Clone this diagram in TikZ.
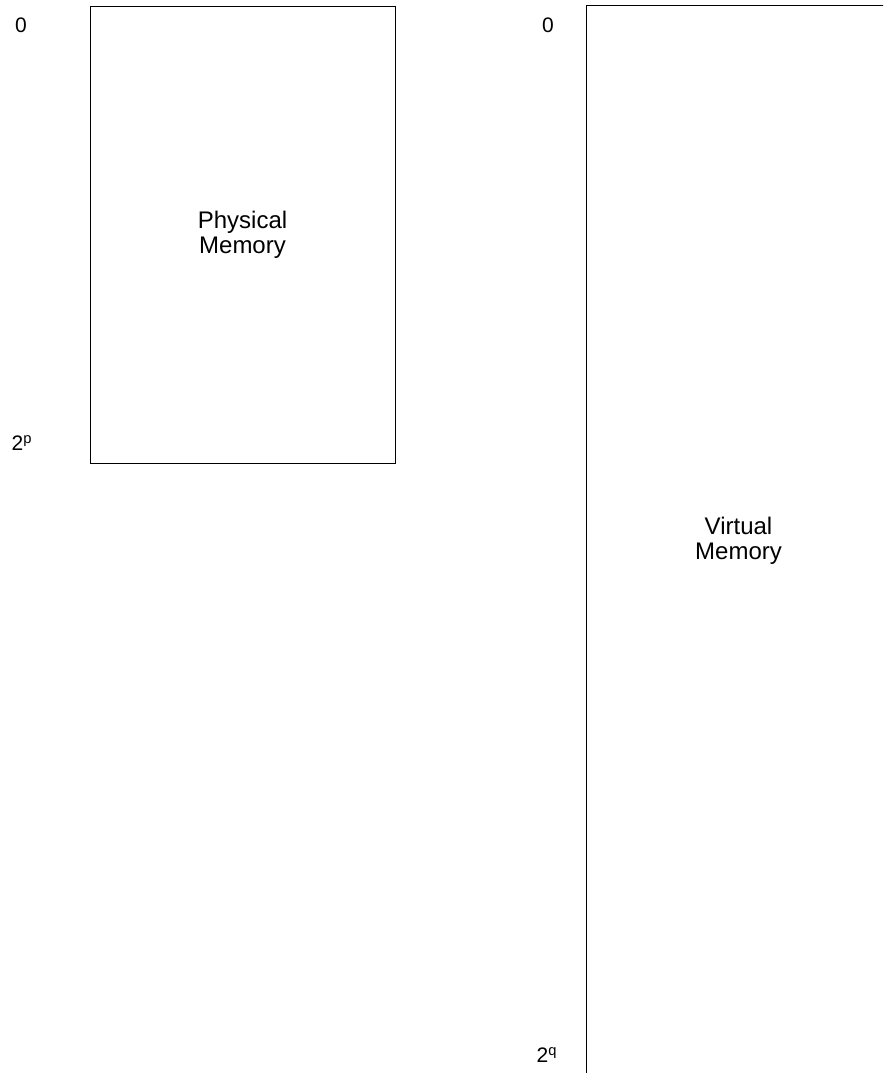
\documentclass[tikz,border=0pt]{standalone}
\usepackage{fontspec}
\setmainfont{Liberation Sans}
\usetikzlibrary{positioning}

\begin{document}
\begin{tikzpicture}[x=0.75pt,y=-0.75pt,
    membox/.style={draw, line width=0.75pt, inner sep=0pt, align=center,
        minimum width=228.75pt, font=\fontsize{18}{18.75}\selectfont},
    addr/.style={anchor=base, font=\fontsize{15.75}{18}\selectfont}]
    \useasboundingbox[clip] (0,0) rectangle (883,1073);
    % the two address spaces
    \node[membox, minimum height=342.75pt] (phys) at (242.5,235) {Physical\\Memory};
    \node[membox, minimum height=802.5pt] (virt) at (738.5,541) {Virtual\\Memory};
    % address labels
    \node[addr] (physlo) at (21,33) {0};
    \node[addr] (physhi) at (22,450) {2\textsuperscript{p}};
    \node[addr] (virtlo) at (548,33) {0};
    \node[addr] (virthi) at (547,1062) {2\textsuperscript{q}};
\end{tikzpicture}
\end{document}
